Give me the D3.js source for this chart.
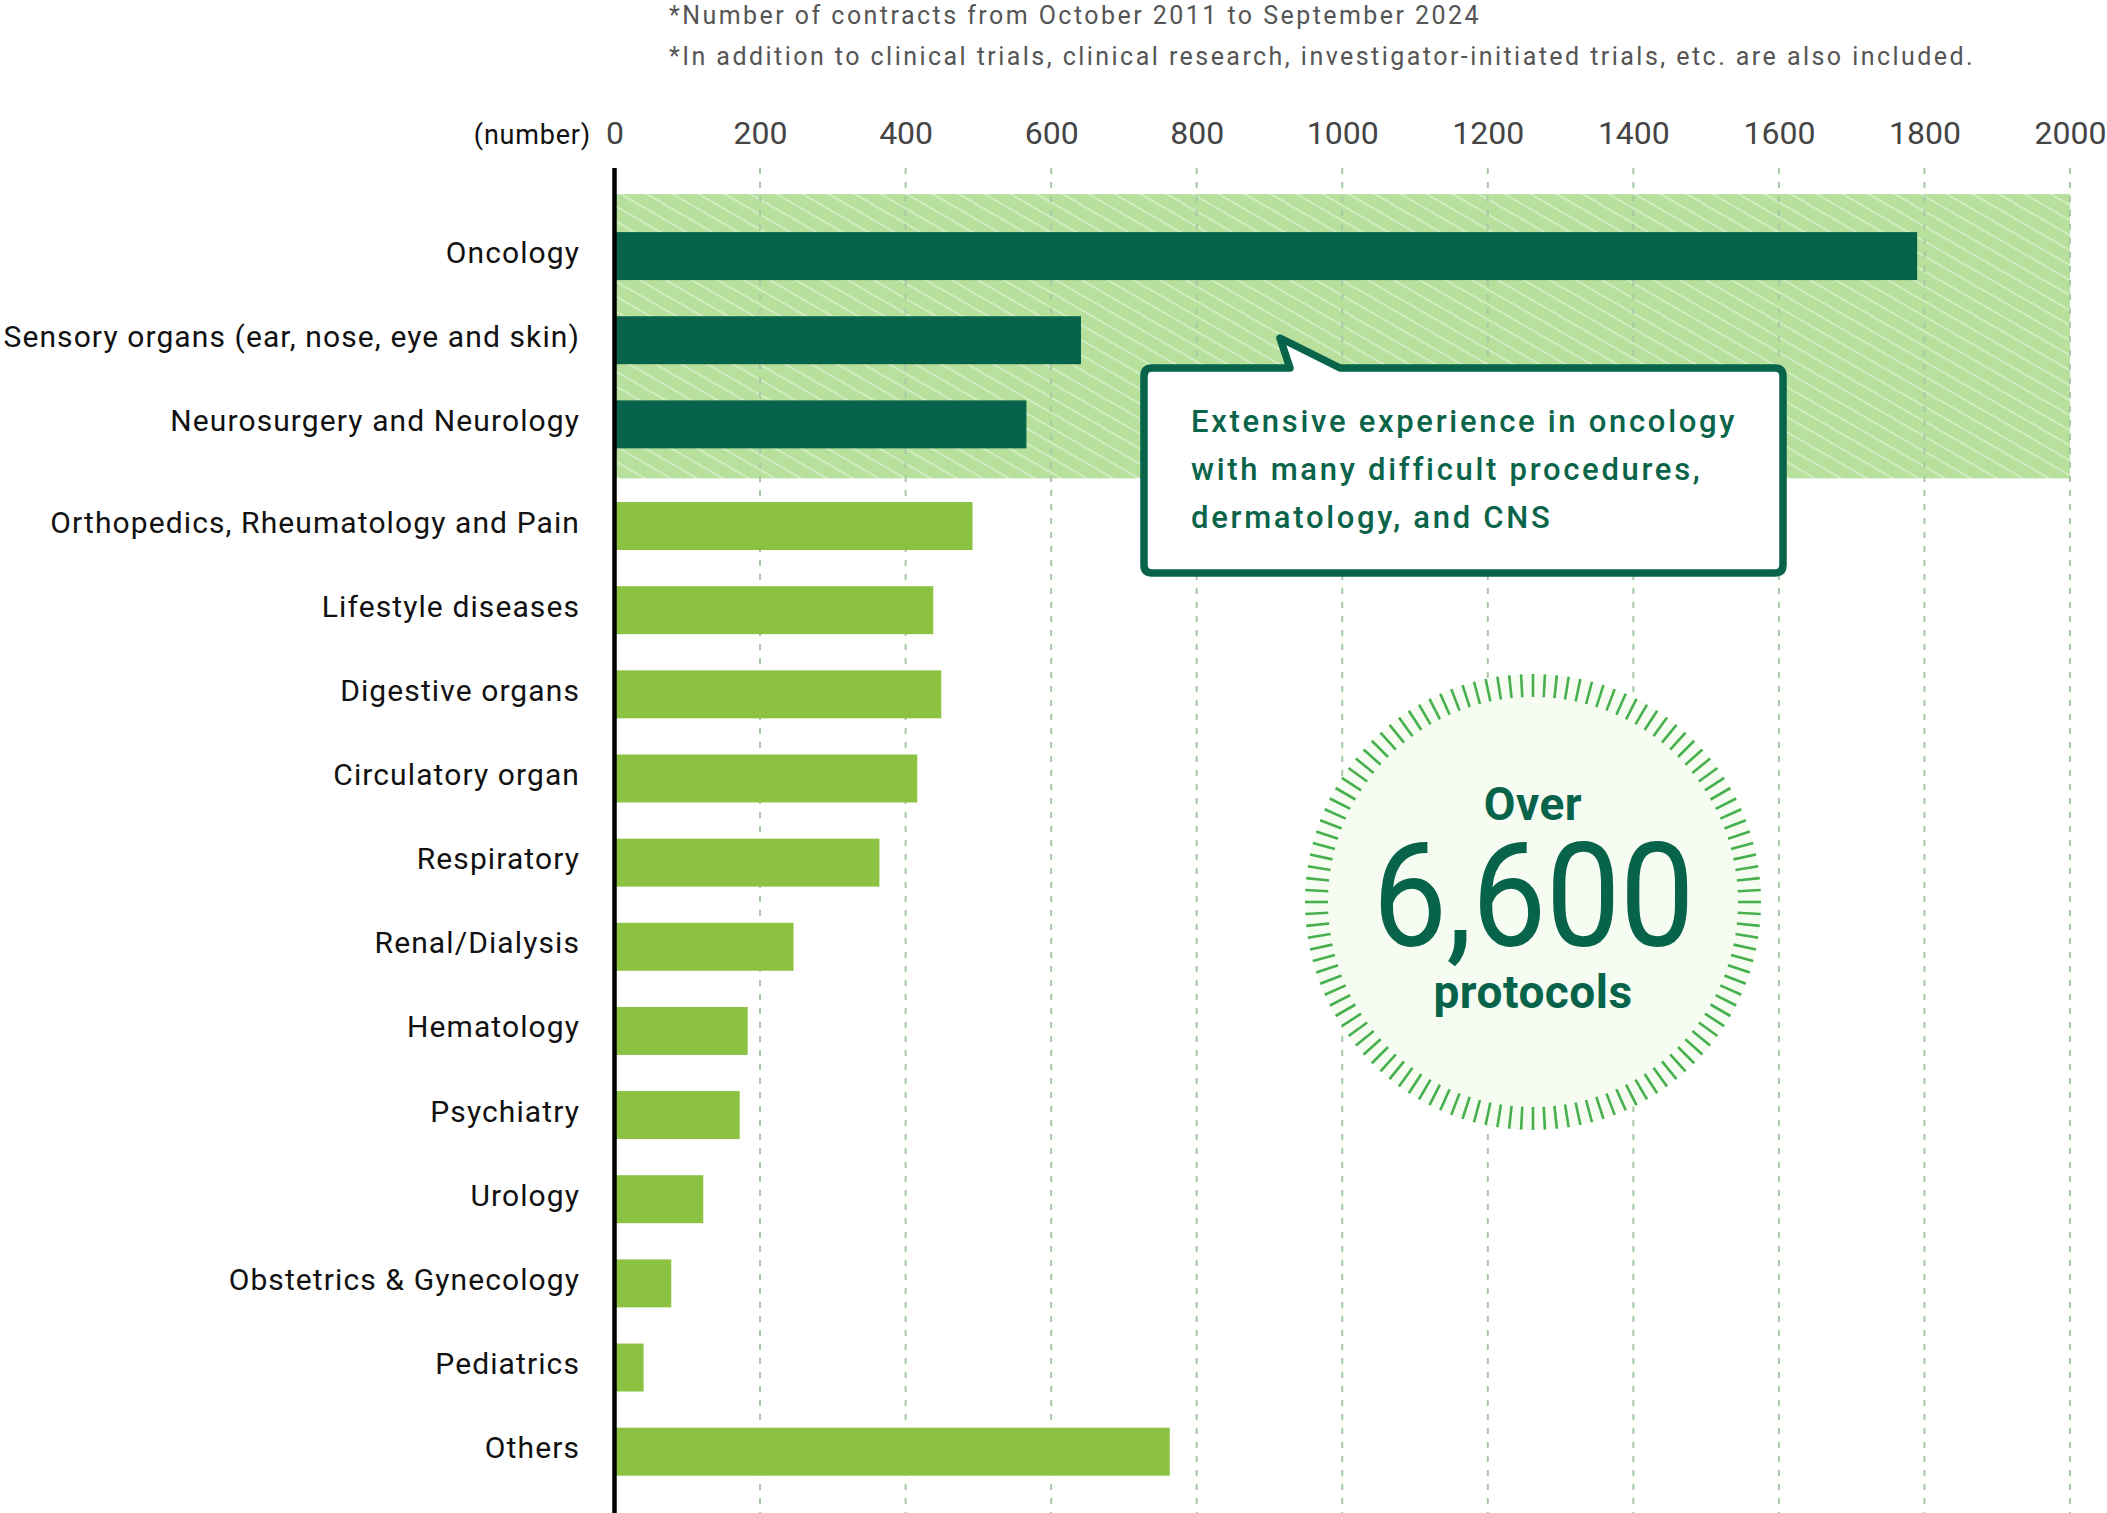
<!DOCTYPE html>
<html>
<head>
<meta charset="utf-8">
<script src="https://cdn.jsdelivr.net/npm/d3@7"></script>
<style>
  body { margin: 0; background: #fff; }
  text { font-family: Roboto, "Noto Sans", sans-serif; }
</style>
</head>
<body>
<div id="chart"></div>
<script>
'use strict';

var categories = [
  'Oncology',
  'Sensory organs (ear, nose, eye and skin)',
  'Neurosurgery and Neurology',
  'Orthopedics, Rheumatology and Pain',
  'Lifestyle diseases',
  'Digestive organs',
  'Circulatory organ',
  'Respiratory',
  'Renal/Dialysis',
  'Hematology',
  'Psychiatry',
  'Urology',
  'Obstetrics & Gynecology',
  'Pediatrics',
  'Others'
];
var counts = [1790, 641, 566, 492, 438, 449, 416, 364, 246, 183, 172, 122, 78, 40, 763];
var highlighted = ['Oncology', 'Sensory organs (ear, nose, eye and skin)', 'Neurosurgery and Neurology'];
var xTicks = [0, 200, 400, 600, 800, 1000, 1200, 1400, 1600, 1800, 2000];
var notes = [
  '*Number of contracts from October 2011 to September 2024',
  '*In addition to clinical trials, clinical research, investigator-initiated trials, etc. are also included.'
];
var calloutLines = [
  'Extensive experience in oncology',
  'with many difficult procedures,',
  'dermatology, and CNS'
];
var badge = { top: 'Over', total: '6,600', bottom: 'protocols' };

var W = 2107, H = 1513;
var dark = '#07634a', light = '#8bc242', bandFill = '#b6e09b', gridColor = '#a9c9a6';

var svg = d3.select('#chart').append('svg').attr('width', W).attr('height', H);

var x = d3.scaleLinear().domain([0, 2000]).range([614.5, 2070]);
var y = d3.scaleBand().domain(categories).range([214, 1476.25]).paddingInner(0.43).paddingOuter(0.215);
var groupGap = 17.5;

function barY(c) {
  return y(c) + (highlighted.indexOf(c) >= 0 ? 0 : groupGap);
}

// striped background for the highlighted group
var defs = svg.append('defs');
var pat = defs.append('pattern').attr('id', 'stripes').attr('patternUnits', 'userSpaceOnUse')
  .attr('width', 20).attr('height', 13).attr('patternTransform', 'rotate(30)');
pat.append('rect').attr('width', 20).attr('height', 13).attr('fill', bandFill);
pat.append('line').attr('x1', 0).attr('x2', 20).attr('y1', 0.7).attr('y2', 0.7)
  .attr('stroke', '#dcf1cf').attr('stroke-width', 1.4);

var bandTop = barY(highlighted[0]) - 38;
var bandBottom = barY(highlighted[highlighted.length - 1]) + y.bandwidth() + 30;
svg.append('rect').attr('x', x(0)).attr('y', bandTop)
  .attr('width', x(2000) - x(0)).attr('height', bandBottom - bandTop)
  .attr('fill', 'url(#stripes)');

// dashed grid
svg.append('g').selectAll('line').data(xTicks.filter(function (d) { return d > 0; }))
  .enter().append('line')
  .attr('x1', function (d) { return x(d); }).attr('x2', function (d) { return x(d); })
  .attr('y1', 168).attr('y2', H)
  .attr('stroke', gridColor).attr('stroke-width', 2).attr('stroke-dasharray', '6,8');

// bars
svg.append('g').selectAll('rect').data(categories).enter().append('rect')
  .attr('x', x(0))
  .attr('y', function (d) { return barY(d); })
  .attr('width', function (d, i) { return x(counts[i]) - x(0); })
  .attr('height', y.bandwidth())
  .attr('fill', function (d) { return highlighted.indexOf(d) >= 0 ? dark : light; });

// axis line
svg.append('line').attr('x1', x(0)).attr('x2', x(0)).attr('y1', 168).attr('y2', H)
  .attr('stroke', '#000').attr('stroke-width', 4.5);

// category labels
svg.append('g').selectAll('text').data(categories).enter().append('text')
  .attr('x', 580)
  .attr('y', function (d) { return barY(d) + y.bandwidth() / 2 + 6.5; })
  .attr('text-anchor', 'end')
  .style('font-size', '30px').style('letter-spacing', '1.1px').style('fill', '#111')
  .text(function (d) { return d; });

// top axis
var xAxis = d3.axisTop(x).tickValues(xTicks).tickSize(0).tickPadding(0).tickFormat(d3.format('d'));
var axisG = svg.append('g').attr('transform', 'translate(0,144)').call(xAxis);
axisG.select('.domain').remove();
axisG.selectAll('text').attr('dy', 0).style('font-size', '32px').style('fill', '#444')
  .style('font-family', 'Roboto, sans-serif');

svg.append('text').attr('x', 591).attr('y', 144).attr('text-anchor', 'end')
  .style('font-size', '27px').style('letter-spacing', '0.8px').style('fill', '#111').text('(number)');

// notes
svg.append('g').selectAll('text').data(notes).enter().append('text')
  .attr('x', 669).attr('y', function (d, i) { return 24 + i * 41; })
  .style('font-size', '25px').style('letter-spacing', '2.45px').style('fill', '#555')
  .text(function (d) { return d; });

// callout
var bx0 = 1144, bx1 = 1783, by0 = 368, by1 = 573, r = 8;
var p = d3.path();
p.moveTo(bx0 + r, by0);
p.lineTo(1290, by0);
p.lineTo(1280, 338);
p.lineTo(1340, by0);
p.lineTo(bx1 - r, by0);
p.quadraticCurveTo(bx1, by0, bx1, by0 + r);
p.lineTo(bx1, by1 - r);
p.quadraticCurveTo(bx1, by1, bx1 - r, by1);
p.lineTo(bx0 + r, by1);
p.quadraticCurveTo(bx0, by1, bx0, by1 - r);
p.lineTo(bx0, by0 + r);
p.quadraticCurveTo(bx0, by0, bx0 + r, by0);
p.closePath();
svg.append('path').attr('d', p.toString()).attr('fill', '#fff')
  .attr('stroke', dark).attr('stroke-width', 7.5).attr('stroke-linejoin', 'round');

svg.append('g').selectAll('text').data(calloutLines).enter().append('text')
  .attr('x', 1191).attr('y', function (d, i) { return 432 + i * 48; })
  .style('font-size', '31px').style('font-weight', 500).style('letter-spacing', '2.7px')
  .style('fill', '#0a6449')
  .text(function (d) { return d; });

// badge
var cx = 1533, cy = 902;
var badgeG = svg.append('g').attr('transform', 'translate(' + cx + ',' + cy + ')');
badgeG.append('circle').attr('r', 228).attr('fill', '#f7fcf3');
badgeG.append('g').selectAll('line').data(d3.range(120)).enter().append('line')
  .attr('x1', function (d) { return 205 * Math.cos(d * Math.PI / 60); })
  .attr('y1', function (d) { return 205 * Math.sin(d * Math.PI / 60); })
  .attr('x2', function (d) { return 228 * Math.cos(d * Math.PI / 60); })
  .attr('y2', function (d) { return 228 * Math.sin(d * Math.PI / 60); })
  .attr('stroke', '#46b04d').attr('stroke-width', 2.6);

badgeG.append('text').attr('y', -82).attr('text-anchor', 'middle')
  .style('font-size', '46px').style('font-weight', 700).style('letter-spacing', '0.5px')
  .style('fill', dark).text(badge.top);
badgeG.append('text').attr('transform', 'translate(0,44) scale(0.92,1)').attr('text-anchor', 'middle')
  .style('font-size', '145px').style('font-weight', 400).style('letter-spacing', '-1px')
  .style('fill', dark).text(badge.total);
badgeG.append('text').attr('y', 106).attr('text-anchor', 'middle')
  .style('font-size', '46px').style('font-weight', 700).style('letter-spacing', '0.5px')
  .style('fill', dark).text(badge.bottom);
</script>
</body>
</html>
